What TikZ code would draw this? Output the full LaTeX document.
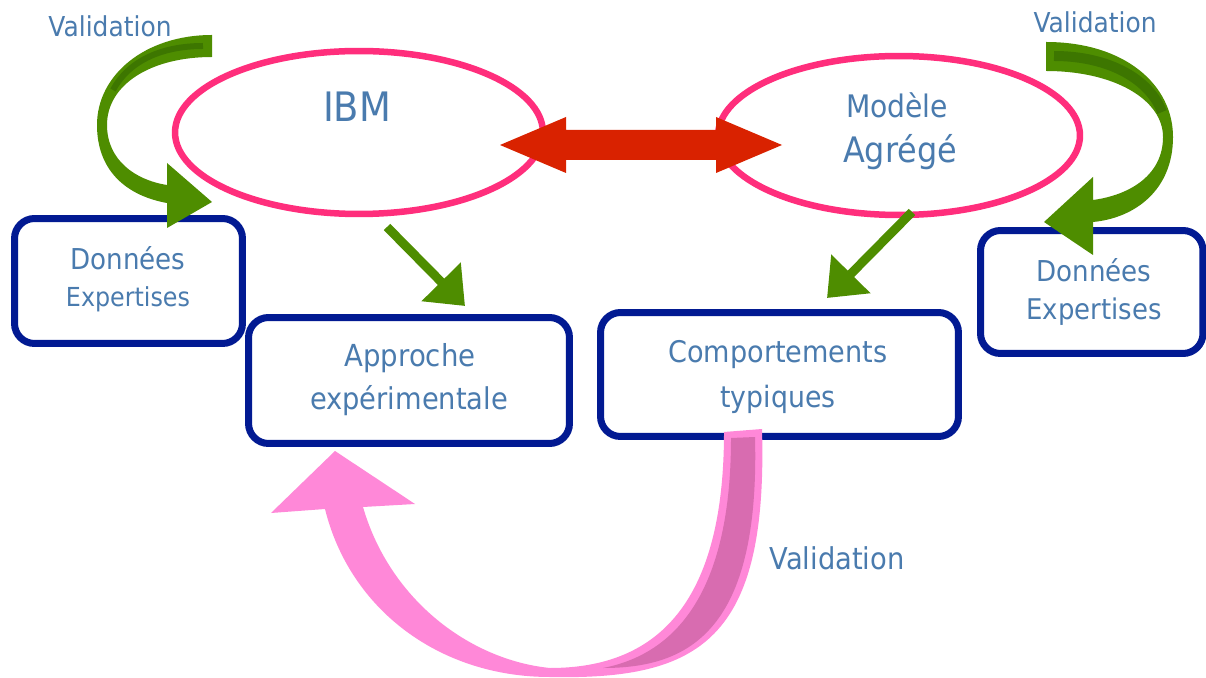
\documentclass[tikz,border=0pt]{standalone}
\usepackage{fontspec}
\setmainfont{DejaVu Sans}
\usetikzlibrary{shapes.geometric,arrows.meta}
\definecolor{txtblue}{HTML}{4A7BAE}
\definecolor{ellpink}{HTML}{FF2E7C}
\definecolor{boxnavy}{HTML}{021A92}
\definecolor{arrgreen}{HTML}{4E8D00}
\definecolor{arrgreendk}{HTML}{3D7600}
\definecolor{arrred}{HTML}{D92200}
\definecolor{arrpink}{HTML}{FF88D8}
\definecolor{arrpinkdk}{HTML}{D86CB0}
\newlength{\pxu}\setlength{\pxu}{0.02cm}
% text scaled to a given width (in picture units)
\newcommand{\fitw}[2]{\scalebox{1}[1.1]{\resizebox{#1\pxu}{!}{#2}}}

\begin{document}
\begin{tikzpicture}[x=0.02cm,y=-0.02cm,
  lbl/.style={anchor=base,inner sep=0pt,text=txtblue},
  ovalnode/.style={ellipse,draw=ellpink,line width=0.13cm,inner sep=0pt},
  boxnode/.style={rectangle,rounded corners=0.4cm,draw=boxnavy,line width=0.14cm,inner sep=0pt},
  gline/.style={draw=arrgreen,line width=0.18cm,line cap=butt,-{Triangle[width=1.06cm,length=0.68cm]}},
  gstripe/.style={draw=arrgreendk,line cap=butt}]
\useasboundingbox[fill=white] (0,0) rectangle (1206,678);

% straight arrow from IBM (under the oval)
\coordinate (ibmout) at (387,227);
\coordinate (apprin) at (465,306);
\draw[gline] (ibmout) -- (apprin);

% ovals
\node[ovalnode,minimum width=7.36cm,minimum height=3.26cm] (ibm) at (359,132.5) {};
\node[ovalnode,minimum width=7.24cm,minimum height=3.18cm] (agg) at (899,135.5) {};

% double arrow between the two models
\fill[arrred] (500,145) -- (566,117) -- (566,130) -- (716,130) -- (716,117)
  -- (782,145) -- (716,173) -- (716,160) -- (566,160) -- (566,173) -- cycle;

% boxes
\node[boxnode,minimum width=4.56cm,minimum height=2.5cm] (donL) at (128.5,281) {};
\node[boxnode,minimum width=6.42cm,minimum height=2.52cm] (appr) at (409,380.5) {};
\node[boxnode,minimum width=7.16cm,minimum height=2.48cm] (comp) at (779.5,374.5) {};
\node[boxnode,minimum width=4.45cm,minimum height=2.46cm] (donR) at (1091.75,292) {};

% straight arrow from the aggregated model
\coordinate (aggout) at (912,212);
\coordinate (compin) at (827,298);
\draw[gline] (aggout) -- (compin);

% curved validation arrow, left
\fill[arrgreen] (212,35) .. controls (145,35) and (97,75) .. (97,125)
  .. controls (97,172) and (128,196) .. (167,203) -- (167,228) -- (212,202)
  -- (167,163) -- (167,185) .. controls (135,180) and (107,160) .. (107,125)
  .. controls (107,85) and (150,57) .. (212,57) -- cycle;
\draw[gstripe,line width=0.12cm] (203,46) .. controls (160,46) and (128,62) .. (113,90);

% curved validation arrow, right
\fill[arrgreen] (1046,42) .. controls (1125,42) and (1173,85) .. (1173,137)
  .. controls (1173,190) and (1135,218) .. (1093,222) -- (1093,255) -- (1044,222)
  -- (1093,177) -- (1093,200) .. controls (1130,195) and (1163,175) .. (1163,137)
  .. controls (1163,100) and (1115,71) .. (1046,71) -- cycle;
\draw[gstripe,line width=0.2cm] (1054,56) .. controls (1110,56) and (1150,80) .. (1162,112);

% validation loop, bottom
\fill[arrpink] (724,432) .. controls (724,600) and (660,668) .. (550,668)
  .. controls (470,660) and (390,600) .. (363,507) -- (415,504) -- (335,451)
  -- (271,513) -- (325,509) .. controls (350,610) and (440,677) .. (550,677)
  .. controls (700,680) and (768,640) .. (762,429) -- cycle;
\fill[arrpinkdk] (731,438) -- (755,437) .. controls (760,630) and (690,668) .. (603,668)
  .. controls (670,655) and (731,600) .. (731,438) -- cycle;

% labels
\node[lbl] (tIBM) at (357,122) {\fitw{68}{IBM}};
\node[lbl] (tMod) at (897,118) {\fitw{102}{Modèle}};
\node[lbl] (tAgr) at (900,163) {\fitw{114}{Agrégé}};
\node[lbl] (tDonL) at (128,270) {\fitw{115}{Données}};
\node[lbl] (tExpL) at (128,307) {\fitw{124}{Expertises}};
\node[lbl] (tDonR) at (1094,282) {\fitw{115}{Données}};
\node[lbl] (tExpR) at (1094,320) {\fitw{135}{Expertises}};
\node[lbl] (tApp) at (410,367) {\fitw{131}{Approche}};
\node[lbl] (tExp) at (409,410) {\fitw{198}{expérimentale}};
\node[lbl] (tCom) at (778,363) {\fitw{219}{Comportements}};
\node[lbl] (tTyp) at (778,407) {\fitw{115}{typiques}};
\node[lbl] (vL) at (110,37) {\fitw{123}{Validation}};
\node[lbl] (vR) at (1095,33) {\fitw{123}{Validation}};
\node[lbl] (vB) at (837,569) {\fitw{135}{Validation}};
\end{tikzpicture}
\end{document}
